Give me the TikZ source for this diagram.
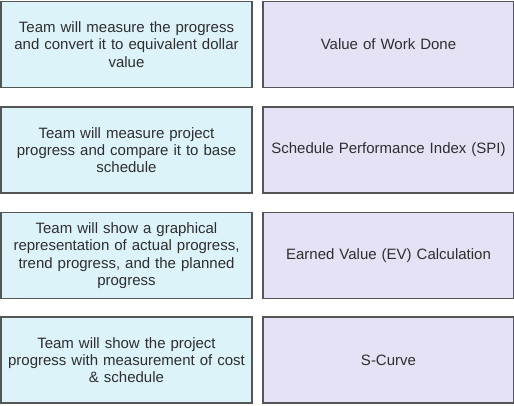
\documentclass[tikz,border=0pt]{standalone}
\usepackage{fontspec}
\setmainfont{Liberation Sans}
\definecolor{lblue}{HTML}{DDF3FA}
\definecolor{lpurp}{HTML}{E6E2F5}
\definecolor{edge}{HTML}{555555}
\definecolor{txt}{HTML}{2E2E2E}
\begin{document}
\begin{tikzpicture}[x=1pt,y=1pt,
  leftbox/.style={draw=edge,line width=1.4pt,fill=lblue,minimum width=251pt,minimum height=86pt,inner sep=0pt,align=center,text width=250pt,font=\fontsize{15}{17.3}\selectfont,text=txt},
  rightbox/.style={leftbox,fill=lpurp}]
\useasboundingbox[fill=white] (0,0) rectangle (514,405);
\node[leftbox] (l1) at (126.5,360.5) {Team will measure the progress\\and convert it to equivalent dollar\\value};
\node[rightbox] (r1) at (388.5,360.5) {Value of Work Done};
\node[leftbox] (l2) at (126.5,255) {Team will measure project\\progress and compare it to base\\schedule};
\node[rightbox] (r2) at (388.5,255) {Schedule Performance Index (SPI)};
\node[leftbox] (l3) at (126.5,149.5) {Team will show a graphical\\representation of actual progress,\\trend progress, and the planned\\progress};
\node[rightbox] (r3) at (388.5,149.5) {Earned Value (EV) Calculation};
\node[leftbox] (l4) at (126.5,45) {Team will show the project\\progress with measurement of cost\\\& schedule};
\node[rightbox] (r4) at (388.5,45) {S-Curve};
\end{tikzpicture}
\end{document}
